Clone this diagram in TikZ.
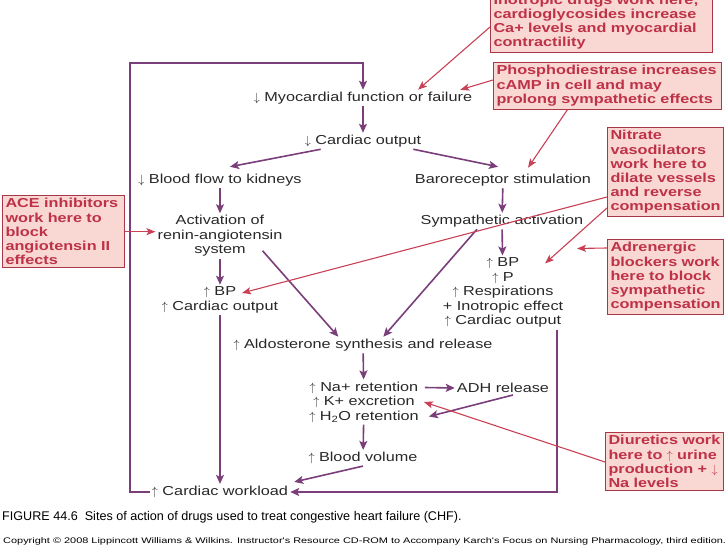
\documentclass[tikz,border=0pt]{standalone}
\usepackage{fontspec}
\setmainfont{Liberation Sans}[FakeStretch=1.25]
\newfontfamily\plainfont{Liberation Sans}
\newfontfamily\widefont{Liberation Sans}[FakeStretch=1.35]
\usetikzlibrary{arrows.meta}

\definecolor{flowc}{RGB}{122,62,122}
\definecolor{drugc}{RGB}{200,65,85}
\definecolor{boxfill}{RGB}{249,216,212}
\definecolor{boxtext}{RGB}{190,50,72}
\definecolor{inkc}{RGB}{40,40,40}

\newcommand{\arrup}{$\uparrow$}
\newcommand{\arrdn}{$\downarrow$}

\tikzset{
  txt/.style={font=\fontsize{13}{14.5}\selectfont, text=inkc, inner sep=2pt, align=center},
  flow/.style={draw=flowc, line width=1.6pt, -{Stealth[length=9pt,width=8pt,inset=2pt]}},
  drug/.style={draw=drugc, line width=1.1pt, -{Stealth[length=9pt,width=7pt,inset=2pt]}},
  drugbox/.style={draw=drugc!85!black, line width=1pt, fill=boxfill, text=boxtext,
    font=\bfseries\fontsize{13}{14.2}\selectfont, align=left, inner sep=3pt, anchor=north west},
}

\begin{document}
\begin{tikzpicture}[x=1pt,y=-1pt]
\useasboundingbox (0,0) rectangle (728,546);
% main chain
\node[txt] (myo)  at (363,98)  {\arrdn\ Myocardial function or failure};
\node[txt] (co)   at (363,141) {\arrdn\ Cardiac output};
\node[txt] (kid)  at (220,180) {\arrdn\ Blood flow to kidneys};
\node[txt] (baro) at (503,180) {Baroreceptor stimulation};
\node[txt] (ras)  at (220,236) {Activation of\\renin-angiotensin\\system};
\node[txt] (symp) at (502,221) {Sympathetic activation};
\node[txt] (bpL)  at (220,300) {\arrup\ BP\\\arrup\ Cardiac output};
\node[txt] (bpR)  at (503,292.5) {\arrup\ BP\\\arrup\ P\\\arrup\ Respirations\\+ Inotropic effect\\\arrup\ Cardiac output};
\node[txt] (ald)  at (363,345) {\arrup\ Aldosterone synthesis and release};
\node[txt] (na)   at (364,402) {\arrup\ Na+ retention\\\arrup\ K+ excretion\\\arrup\ H\textsubscript{2}O retention};
\node[txt] (adh)  at (503,388) {ADH release};
\node[txt] (bv)   at (363,458) {\arrup\ Blood volume};
\node[txt] (work) at (220,492) {\arrup\ Cardiac workload};
\coordinate (loopL) at (130,63);

% drug boxes
\node[drugbox,anchor=south west,text width=216pt] (inotr) at (490,53)
  {Inotropic drugs work here;\\cardioglycosides increase\\Ca+ levels and myocardial\\contractility};
\node[drugbox,text width=222pt] (phos) at (493,62)
  {Phosphodiestrase increases\\cAMP in cell and may\\prolong sympathetic effects};
\node[drugbox,text width=110pt] (nitr) at (607,127)
  {Nitrate\\vasodilators\\work here to\\dilate vessels\\and reverse\\compensation};
\node[drugbox,text width=110pt] (adr) at (607,239)
  {Adrenergic\\blockers work\\here to block\\sympathetic\\compensation};
\node[drugbox,text width=116pt] (ace) at (2,195)
  {ACE inhibitors\\work here to\\block\\angiotensin II\\effects};
\node[drugbox,text width=112pt] (diur) at (605,432)
  {Diuretics work\\here to \arrup\ urine\\production + \arrdn\\Na levels};

% flow arrows
\draw[flow] (work.west) -| (loopL) -| (myo.north);
\draw[flow] (myo) -- (co);
\draw[flow] ([xshift=18pt]co.south west) -- ([xshift=10pt,yshift=5pt]kid.north);
\draw[flow] ([xshift=-10pt]co.south east) -- ([xshift=-5pt,yshift=5pt]baro.north);
\draw[flow] (kid) -- (ras);
\draw[flow] (baro) -- (symp);
\draw[flow] (ras) -- (bpL);
\draw[flow] (symp) -- (bpR);
\draw[flow] ([xshift=-22pt,yshift=8pt]ras.south east) -- ([xshift=107pt]ald.north west);
\draw[flow] ([xshift=-25pt]symp.south) -- ([xshift=152pt]ald.north west);
\draw[flow] (bpL) -- (work);
\draw[flow] ([xshift=54pt]bpR.south) |- (work.east);
\draw[flow] (ald) -- (na);
\draw[flow] ([xshift=4pt,yshift=14.5pt]na.east) -- (adh.west);
\draw[flow] ([xshift=10pt]adh.south) -- ([xshift=8pt,yshift=-14.5pt]na.east);
\draw[flow] (na) -- (bv);
\draw[flow] (bv.south) -- ([xshift=4pt,yshift=2pt]work.north east);

% drug arrows
\draw[drug] ([yshift=26pt]inotr.south west) -- ([xshift=55pt]myo.north);
\draw[drug] ([yshift=-18pt]phos.north west) -- ([xshift=-14pt]myo.north east);
\draw[drug] ([xshift=-40pt]phos.south) -- ([xshift=25pt,yshift=4pt]baro.north);
\draw[drug] ([yshift=-70pt]nitr.north west) -- ([xshift=22pt,yshift=7pt]bpL.center);
\draw[drug] ([yshift=-81pt]nitr.north west) -- ([xshift=42pt,yshift=-8pt]bpR.north);
\draw[drug] ([yshift=-9pt]adr.north west) -- ([xshift=74pt,yshift=7pt]bpR.north);
\draw[drug] (ace.east) -- (ace.east -| ras.west);
\draw[drug] ([yshift=-30pt]diur.north west) -- ([xshift=3pt]na.east);

% caption
\node[anchor=west,inner sep=0pt,text=black,font=\plainfont\fontsize{12.6}{13}\selectfont] (cap) at (2,517)
  {FIGURE 44.6\ \ Sites of action of drugs used to treat congestive heart failure (CHF).};
\node[anchor=west,inner sep=0pt,text=black,font=\widefont\fontsize{8.1}{9}\selectfont] (cpr) at (3,541)
  {Copyright © 2008 Lippincott Williams \& Wilkins. Instructor's Resource CD-ROM to Accompany Karch's Focus on Nursing Pharmacology, third edition.};
\end{tikzpicture}
\end{document}
